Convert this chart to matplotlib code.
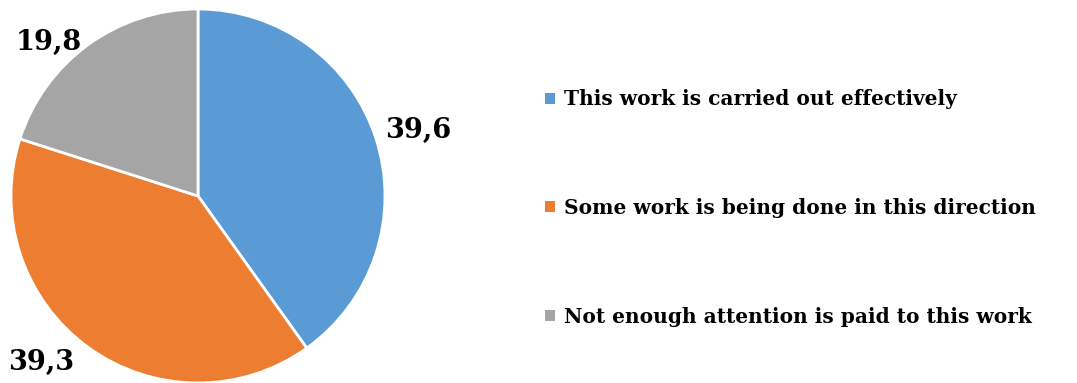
import matplotlib
matplotlib.use("Agg")
import matplotlib.pyplot as plt
from matplotlib.patches import Patch

categories = [
    "This work is carried out effectively",
    "Some work is being done in this direction",
    "Not enough attention is paid to this work",
]
values = [39.6, 39.3, 19.8]
value_labels = ["39,6", "39,3", "19,8"]
colors = ["#5B9BD5", "#ED7D31", "#A5A5A5"]

# where the value labels sit (pie data units, radius = 1)
label_pos = [(1.18, 0.35), (-0.84, -0.89), (-0.80, 0.82)]

W, H = 1077, 383
fig = plt.figure(figsize=(W / 100, H / 100), dpi=100)
plt.rcParams['font.family'] = ['DejaVu Serif']

# pie axes: square box 374 px, left edge at 11 px, top at 9 px
ax = fig.add_axes([11 / W, 0 / H, 374 / W, 374 / H])
wedges, _ = ax.pie(values, colors=colors, startangle=90, counterclock=False,
                   wedgeprops=dict(edgecolor="white", linewidth=2))
ax.set_xlim(-1.0, 1.0)
ax.set_ylim(-1.0, 1.0)
ax.set_aspect("equal")
ax.axis("off")

for (x, y), txt in zip(label_pos, value_labels):
    ax.text(x, y, txt, ha="center", va="center", fontsize=19.5,
            fontweight="bold", color="black", clip_on=False)

handles = [Patch(facecolor=c, edgecolor="none") for c in colors]
fig.legend(handles, categories, loc="center left",
           bbox_to_anchor=(527 / W, 1 - 208 / H), frameon=False,
           prop=dict(size=14.5, weight="bold"),
           handlelength=0.47, handleheight=0.47, handletextpad=0.45,
           labelspacing=4.4)

fig.savefig("out.png", dpi=100)
